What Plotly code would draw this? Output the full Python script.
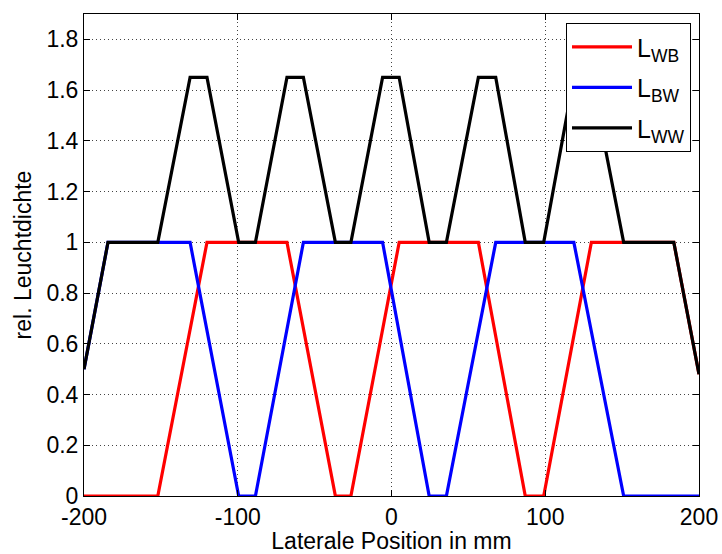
import plotly.graph_objects as go

# Data (vertices)
x_wb = [-200, -152, -120, -68, -36.5, -26.4, 5, 56.5, 87, 99, 130, 183.6, 200]
y_wb = [0, 0, 1, 1, 0, 0, 1, 1, 0, 0, 1, 1, 0.48]

x_bw = [-200, -184.4, -131, -99.4, -88.5, -57.3, -5.8, 24.5, 35.7, 67.8, 118.6, 151, 200]
y_bw = [0.5, 1, 1, 0, 0, 1, 1, 0, 0, 1, 1, 0, 0]

x_ww = [-200, -184.4, -152, -131, -120, -99.4, -88.5, -68, -57.3, -36.5, -26.4,
        -5.8, 5, 24.5, 35.7, 56.5, 67.8, 87, 99, 118.6, 130, 151, 183.6, 200]
y_ww = [0.5, 1, 1, 1.65, 1.65, 1, 1, 1.65, 1.65, 1, 1,
        1.65, 1.65, 1, 1, 1.65, 1.65, 1, 1, 1.65, 1.65, 1, 1, 0.48]

names = ["L<sub>WB</sub>", "L<sub>BW</sub>", "L<sub>WW</sub>"]
colors = ["#ff0000", "#0000ff", "#000000"]

x_ticks = [-200, -100, 0, 100, 200]
x_ticktext = ["-200", "-100", "0", "100", "200"]
y_ticks = [0, 0.2, 0.4, 0.6, 0.8, 1, 1.2, 1.4, 1.6, 1.8]
y_ticktext = ["0", "0.2", "0.4", "0.6", "0.8", "1", "1.2", "1.4", "1.6", "1.8"]

fig = go.Figure()
for i, (xs, ys, n, c) in enumerate([(x_wb, y_wb, names[0], colors[0]),
                                    (x_bw, y_bw, names[1], colors[1]),
                                    (x_ww, y_ww, names[2], colors[2])]):
    fig.add_trace(go.Scatter(x=xs, y=ys, mode="lines", name=n, legendgroup=f"g{i}",
                             line=dict(color=c, width=3.2)))

font = "Liberation Sans, Arial, sans-serif"
axis_common = dict(
    showline=True, linecolor="black", linewidth=1, mirror="ticks",
    ticks="inside", ticklen=6, tickcolor="black", automargin=False,
    showgrid=True, gridcolor="#444444", griddash="1px,3px", gridwidth=1,
    zeroline=False, tickfont=dict(family=font, size=23, color="black"),
)

fig.update_layout(
    width=722, height=554,
    margin=dict(l=84, r=23, t=14, b=58),
    paper_bgcolor="white", plot_bgcolor="white",
    font=dict(family=font, color="black", size=23),
    xaxis=dict(range=[-200, 200], tickvals=x_ticks, ticktext=x_ticktext,
               title=dict(text="Laterale Position in mm", font=dict(family=font, size=23), standoff=0),
               **axis_common),
    yaxis=dict(range=[0, 1.9], tickvals=y_ticks, ticktext=y_ticktext,
               title=dict(text="rel. Leuchtdichte", font=dict(family=font, size=23), standoff=8),
               **axis_common),
    legend=dict(x=0.987, y=0.981, xanchor="right", yanchor="top",
                bgcolor="white", bordercolor="black", borderwidth=1,
                font=dict(family=font, size=25, color="black"),
                itemwidth=60, tracegroupgap=5),
    showlegend=True,
)

fig.write_html("out.html", config={"displayModeBar": False},
               post_script="document.body.style.margin='0';document.body.style.overflow='hidden';")
